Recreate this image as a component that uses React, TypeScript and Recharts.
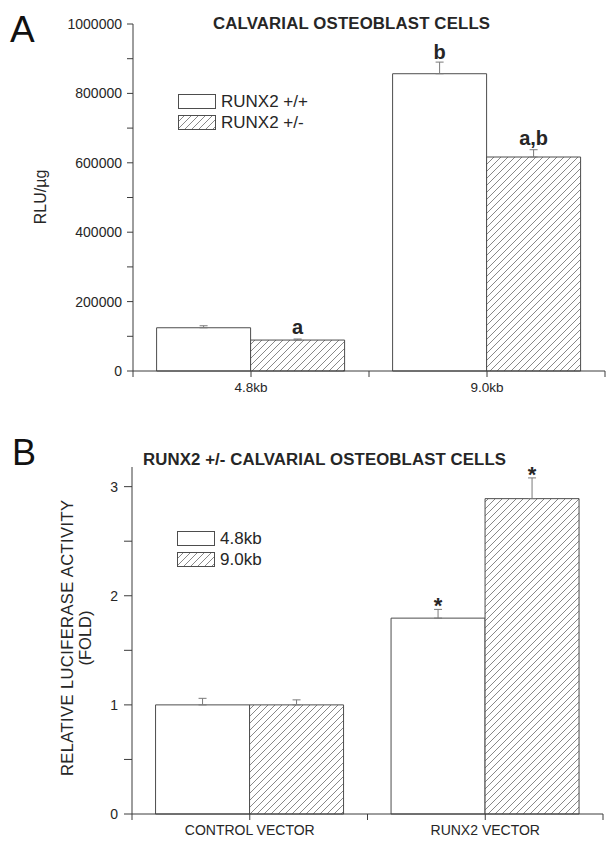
import React from 'react';
import { BarChart, Bar, XAxis, YAxis, ErrorBar, LabelList, Legend } from 'recharts';

// ---------- Panel A data ----------
const constructs = ['4.8kb', '9.0kb'];
const wtRLU = [124600, 856700];
const wtRLUErr = [5800, 33500];
const hetRLU = [89200, 616700];
const hetRLUErr = [3000, 21000];
const wtMarks = ['', 'b'];
const hetMarks = ['a', 'a,b'];
const rluTicks = [0, 100000, 200000, 300000, 400000, 500000, 600000, 700000, 800000, 900000, 1000000];
const rluLabelled = [0, 200000, 400000, 600000, 800000, 1000000];

// ---------- Panel B data ----------
const vectors = ['CONTROL VECTOR', 'RUNX2 VECTOR'];
const fold48 = [1.0, 1.795];
const fold48Err = [0.06, 0.08];
const fold90 = [1.0, 2.89];
const fold90Err = [0.046, 0.19];
const fold48Marks = ['', '*'];
const fold90Marks = ['', '*'];
const foldTicks = [0, 0.5, 1, 1.5, 2, 2.5, 3];
const foldLabelled = [0, 1, 2, 3];

const seriesNamesA = ['RUNX2 +/+', 'RUNX2 +/-'];
const seriesNamesB = ['4.8kb', '9.0kb'];

const FONT = '"Liberation Sans", Arial, Helvetica, sans-serif';
const INK = '#262626';
const EDGE = '#3c3c3c';
const BAR_EDGE = '#4d4d4d';
const ERR = '#7a7a7a';
const HATCH = '#6a6a6a';
const X_TICK = 6;
const X_MARGIN = 4;

const dataA = constructs.map((c, i) => ({
  name: c,
  wt: wtRLU[i],
  wtErr: [0, wtRLUErr[i]],
  het: hetRLU[i],
  hetErr: [0, hetRLUErr[i]],
}));

const dataB = vectors.map((v, i) => ({
  name: v,
  k48: fold48[i],
  k48Err: [0, fold48Err[i]],
  k90: fold90[i],
  k90Err: [0, fold90Err[i]],
}));

function HatchPattern({ id }: { id: string }) {
  return (
    <pattern id={id} patternUnits="userSpaceOnUse" width={7} height={7}>
      <rect x={0} y={0} width={7} height={7} fill="#ffffff" />
      <path d="M0,7 L7,0 M-1,1 L1,-1 M6,8 L8,6" stroke={HATCH} strokeWidth={0.8} />
    </pattern>
  );
}

function CategoryTick(props: any) {
  const { x, y, payload, index, visibleTicksCount, width, fs } = props;
  const count = visibleTicksCount || 2;
  let half = typeof width === 'number' && width > 0 ? width / count / 2 : 0;
  if (!half && payload && payload.offset) half = payload.offset;
  const axisY = y - X_TICK - X_MARGIN;
  return (
    <g>
      <line x1={x + half} x2={x + half} y1={axisY} y2={axisY + X_TICK} stroke={EDGE} />
      {index === 0 && (
        <line x1={x - half} x2={x - half} y1={axisY} y2={axisY + X_TICK} stroke={EDGE} />
      )}
      <text x={x} y={y} dy="0.78em" textAnchor="middle" fontSize={fs} fill={INK} fontFamily={FONT}>
        {payload.value}
      </text>
    </g>
  );
}

const sigLabel =
  (vals: number[], errs: number[], marks: string[], gap: number, fs: number) => (props: any) => {
    const box = props.viewBox && typeof props.viewBox.x === 'number' ? props.viewBox : props;
    const { index } = props;
    const mark = marks[index];
    if (!mark) return null;
    const x = Number(box.x);
    const y = Number(box.y);
    const w = Number(box.width);
    const h = Number(box.height);
    const pxPerUnit = h / vals[index];
    const errTop = y - errs[index] * pxPerUnit;
    return (
      <text
        x={x + w / 2}
        y={errTop - gap}
        textAnchor="middle"
        fontSize={fs}
        fontWeight="bold"
        fill={INK}
        fontFamily={FONT}
      >
        {mark}
      </text>
    );
  };

const legendContent = (hatchedKeys: string[], patternId: string) => (props: any) => {
  const payload = props.payload || [];
  return (
    <div style={{ display: 'flex', flexDirection: 'column', fontFamily: FONT }}>
      {payload.map((entry: any, i: number) => {
        const hatched = hatchedKeys.includes(entry.dataKey);
        return (
          <div key={i} style={{ display: 'flex', alignItems: 'center', height: 21 }}>
            <svg width={39} height={16} style={{ display: 'block' }}>
              <defs>
                <HatchPattern id={`${patternId}-${i}`} />
              </defs>
              <rect
                x={0.5}
                y={0.5}
                width={37}
                height={14}
                fill={hatched ? `url(#${patternId}-${i})` : '#ffffff'}
                stroke={BAR_EDGE}
              />
            </svg>
            <span style={{ marginLeft: 4, fontSize: 17, color: INK, lineHeight: '21px' }}>
              {entry.value}
            </span>
          </div>
        );
      })}
    </div>
  );
};

export default function App() {
  return (
    <div
      style={{
        position: 'absolute',
        left: 0,
        top: 0,
        width: 614,
        height: 845,
        background: '#ffffff',
        fontFamily: FONT,
        overflow: 'hidden',
      }}
    >
      {/* Panel A */}
      <div style={{ position: 'absolute', left: 0, top: 0 }}>
        <BarChart
          width={614}
          height={410}
          data={dataA}
          margin={{ top: 24, right: 9, left: 73, bottom: 9 }}
          barCategoryGap="10%"
          barGap={0}
        >
          <defs>
            <HatchPattern id="hatchA" />
          </defs>
          <XAxis
            dataKey="name"
            height={30}
            stroke={EDGE}
            tickSize={X_TICK}
            tickMargin={X_MARGIN}
            interval={0}
            tick={(p: any) => <CategoryTick {...p} fs={13.5} />}
          />
          <YAxis
            width={60}
            domain={[0, 1000000]}
            ticks={rluTicks}
            interval={0}
            stroke={EDGE}
            tickSize={6}
            tickMargin={5}
            tick={{ fontSize: 14, fill: INK }}
            tickFormatter={(v: number) => (rluLabelled.includes(v) ? String(v) : '')}
          />
          <Legend
            layout="vertical"
            align="center"
            verticalAlign="middle"
            wrapperStyle={{ left: 178, top: 91, width: 200, right: 'auto', bottom: 'auto' }}
            content={legendContent(['het'], 'legA')}
          />
          <Bar
            dataKey="wt"
            name={seriesNamesA[0]}
            fill="#ffffff"
            stroke={BAR_EDGE}
            strokeWidth={1}
            isAnimationActive={false}
          >
            <ErrorBar dataKey="wtErr" width={4} stroke={ERR} strokeWidth={1} direction="y" isAnimationActive={false} />
            <LabelList dataKey="wt" content={sigLabel(wtRLU, wtRLUErr, wtMarks, 3, 20)} />
          </Bar>
          <Bar
            dataKey="het"
            name={seriesNamesA[1]}
            fill="url(#hatchA)"
            stroke={BAR_EDGE}
            strokeWidth={1}
            isAnimationActive={false}
          >
            <ErrorBar dataKey="hetErr" width={4} stroke={ERR} strokeWidth={1} direction="y" isAnimationActive={false} />
            <LabelList dataKey="het" content={sigLabel(hetRLU, hetRLUErr, hetMarks, 5, 20)} />
          </Bar>
        </BarChart>
      </div>

      {/* Panel B */}
      <div style={{ position: 'absolute', left: 0, top: 420 }}>
        <BarChart
          width={614}
          height={425}
          data={dataB}
          margin={{ top: 47, right: 11, left: 72, bottom: 3 }}
          barCategoryGap="10%"
          barGap={0}
        >
          <defs>
            <HatchPattern id="hatchB" />
          </defs>
          <XAxis
            dataKey="name"
            height={28}
            stroke={EDGE}
            tickSize={X_TICK}
            tickMargin={X_MARGIN}
            interval={0}
            tick={(p: any) => <CategoryTick {...p} fs={14} />}
          />
          <YAxis
            width={60}
            domain={[0, 3.18]}
            ticks={foldTicks}
            interval={0}
            stroke={EDGE}
            tickSize={8}
            tickMargin={6}
            tick={{ fontSize: 14, fill: INK }}
            tickFormatter={(v: number) => (foldLabelled.includes(v) ? String(v) : '')}
          />
          <Legend
            layout="vertical"
            align="center"
            verticalAlign="middle"
            wrapperStyle={{ left: 177, top: 108, width: 200, right: 'auto', bottom: 'auto' }}
            content={legendContent(['k90'], 'legB')}
          />
          <Bar
            dataKey="k48"
            name={seriesNamesB[0]}
            fill="#ffffff"
            stroke={BAR_EDGE}
            strokeWidth={1}
            isAnimationActive={false}
          >
            <ErrorBar dataKey="k48Err" width={4} stroke={ERR} strokeWidth={1} direction="y" isAnimationActive={false} />
            <LabelList dataKey="k48" content={sigLabel(fold48, fold48Err, fold48Marks, -4, 22)} />
          </Bar>
          <Bar
            dataKey="k90"
            name={seriesNamesB[1]}
            fill="url(#hatchB)"
            stroke={BAR_EDGE}
            strokeWidth={1}
            isAnimationActive={false}
          >
            <ErrorBar dataKey="k90Err" width={4} stroke={ERR} strokeWidth={1} direction="y" isAnimationActive={false} />
            <LabelList dataKey="k90" content={sigLabel(fold90, fold90Err, fold90Marks, -4, 22)} />
          </Bar>
        </BarChart>
      </div>

      {/* Panel letters, titles and axis titles */}
      <svg
        width={614}
        height={845}
        style={{ position: 'absolute', left: 0, top: 0, pointerEvents: 'none' }}
      >
        <text x={10} y={42} fontSize={37} fill="#111" fontFamily={FONT}>A</text>
        <text x={12} y={465} fontSize={36} fill="#111" fontFamily={FONT}>B</text>
        <text
          x={213}
          y={29}
          fontSize={16.8}
          fontWeight="bold"
          fill={INK}
          fontFamily={FONT}
          textLength={277}
          lengthAdjust="spacing"
        >
          CALVARIAL OSTEOBLAST CELLS
        </text>
        <text
          x={143}
          y={465}
          fontSize={16.8}
          fontWeight="bold"
          fill={INK}
          fontFamily={FONT}
          textLength={363}
          lengthAdjust="spacing"
        >
          RUNX2 +/- CALVARIAL OSTEOBLAST CELLS
        </text>
        <text
          x={0}
          y={0}
          transform="translate(40,197) rotate(-90)"
          textAnchor="middle"
          dominantBaseline="central"
          fontSize={16}
          fill={INK}
          fontFamily={FONT}
        >
          RLU/µg
        </text>
        <text
          x={0}
          y={0}
          transform="translate(67,638) rotate(-90)"
          textAnchor="middle"
          dominantBaseline="central"
          fontSize={16.5}
          fill={INK}
          fontFamily={FONT}
          textLength={276}
          lengthAdjust="spacing"
        >
          RELATIVE LUCIFERASE ACTIVITY
        </text>
        <text
          x={0}
          y={0}
          transform="translate(85,638) rotate(-90)"
          textAnchor="middle"
          dominantBaseline="central"
          fontSize={16.5}
          fill={INK}
          fontFamily={FONT}
        >
          (FOLD)
        </text>
      </svg>
    </div>
  );
}
